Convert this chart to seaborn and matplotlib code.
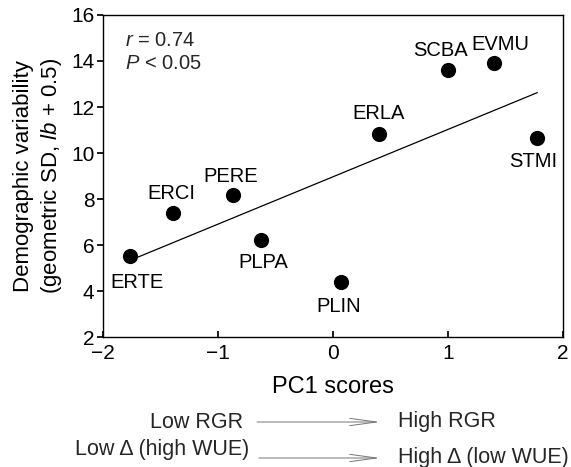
import matplotlib
matplotlib.use("Agg")
import matplotlib.pyplot as plt
import seaborn as sns
import pandas as pd
import numpy as np

species = ["ERTE", "ERCI", "PERE", "PLPA", "PLIN", "ERLA", "SCBA", "EVMU", "STMI"]
pc1 = [-1.765, -1.39, -0.87, -0.626, 0.07, 0.40, 1.003, 1.40, 1.777]
variability = [5.52, 7.39, 8.17, 6.22, 4.39, 10.83, 13.61, 13.90, 10.67]
label_offsets = {"ERTE": (7, -26), "ERCI": (-2, 20), "PERE": (-2, 19), "PLPA": (2, -22),
                 "PLIN": (-2, -24), "ERLA": (0, 20), "SCBA": (-8, 19), "EVMU": (6, 19),
                 "STMI": (-4, -24)}
xticks = [-2, -1, 0, 1, 2]
yticks = [2, 4, 6, 8, 10, 12, 14, 16]

sns.set_theme(style="ticks")
plt.rcParams["font.family"] = ["Liberation Sans", "DejaVu Sans"]
plt.rcParams["mathtext.fontset"] = "custom"
plt.rcParams["mathtext.rm"] = "Liberation Sans"
plt.rcParams["mathtext.it"] = "Liberation Sans:italic"

df = pd.DataFrame({"species": species, "pc1": pc1, "var": variability})

fig = plt.figure(figsize=(5.71, 4.67), dpi=100)
ax = fig.add_axes([0.180, 0.278, 0.806, 0.690])

sns.regplot(data=df, x="pc1", y="var", ax=ax, ci=None, truncate=True,
            scatter_kws=dict(s=120, color="black", edgecolor="black", linewidths=0, alpha=1, zorder=3),
            line_kws=dict(color="black", lw=0.9, zorder=2))

for sp, x, y in zip(species, pc1, variability):
    dx, dy = label_offsets[sp]
    ax.annotate(sp, (x, y), xytext=(dx, dy), textcoords="offset pixels",
                ha="center", va="center", fontsize=14.5, color="black")

ax.text(0.048, 0.922, r"$r$ = 0.74", transform=ax.transAxes, fontsize=14.5, va="center", ha="left")
ax.text(0.048, 0.848, r"$P$ < 0.05", transform=ax.transAxes, fontsize=14.5, va="center", ha="left")

ax.set_xlim(-2, 2)
ax.set_ylim(2, 16)
ax.set_xticks(xticks)
ax.set_yticks(yticks)
ax.set_xticklabels(["\u22122", "\u22121", "0", "1", "2"])
ax.tick_params(axis="x", direction="in", length=4, labelsize=15, pad=5, color="black", labelcolor="black")
ax.tick_params(axis="y", direction="out", length=4, labelsize=15, pad=2, color="black", labelcolor="black")
for s in ax.spines.values():
    s.set_visible(True)
    s.set_color("black")
    s.set_linewidth(1.0)

ax.set_xlabel("PC1 scores", fontsize=17, color="black", labelpad=9)
ax.set_ylabel("Demographic variability\n" + r"(geometric SD, $lb$ + 0.5)", fontsize=16,
              color="black", labelpad=5, linespacing=1.3)

# bottom arrows
def px(x, y):
    return (x / 571, 1 - y / 467)

arrow_kw = dict(arrowstyle="->,head_length=1.6,head_width=0.22", color="#777777", lw=0.7,
                shrinkA=0, shrinkB=0)
fig.text(*px(243, 422), "Low RGR", ha="right", va="center", fontsize=15.5)
fig.text(*px(398, 422), "High RGR", ha="left", va="center", fontsize=15.5)
ax.annotate("", xy=px(380, 422), xytext=px(257, 422), xycoords="figure fraction",
            textcoords="figure fraction", arrowprops=arrow_kw, annotation_clip=False)
fig.text(*px(249, 450), "Low \u0394 (high WUE)", ha="right", va="center", fontsize=15.5)
fig.text(*px(398, 458), "High \u0394 (low WUE)", ha="left", va="center", fontsize=15.5)
ax.annotate("", xy=px(380, 458), xytext=px(259, 458), xycoords="figure fraction",
            textcoords="figure fraction", arrowprops=arrow_kw, annotation_clip=False)

fig.savefig("out.png", dpi=100)
